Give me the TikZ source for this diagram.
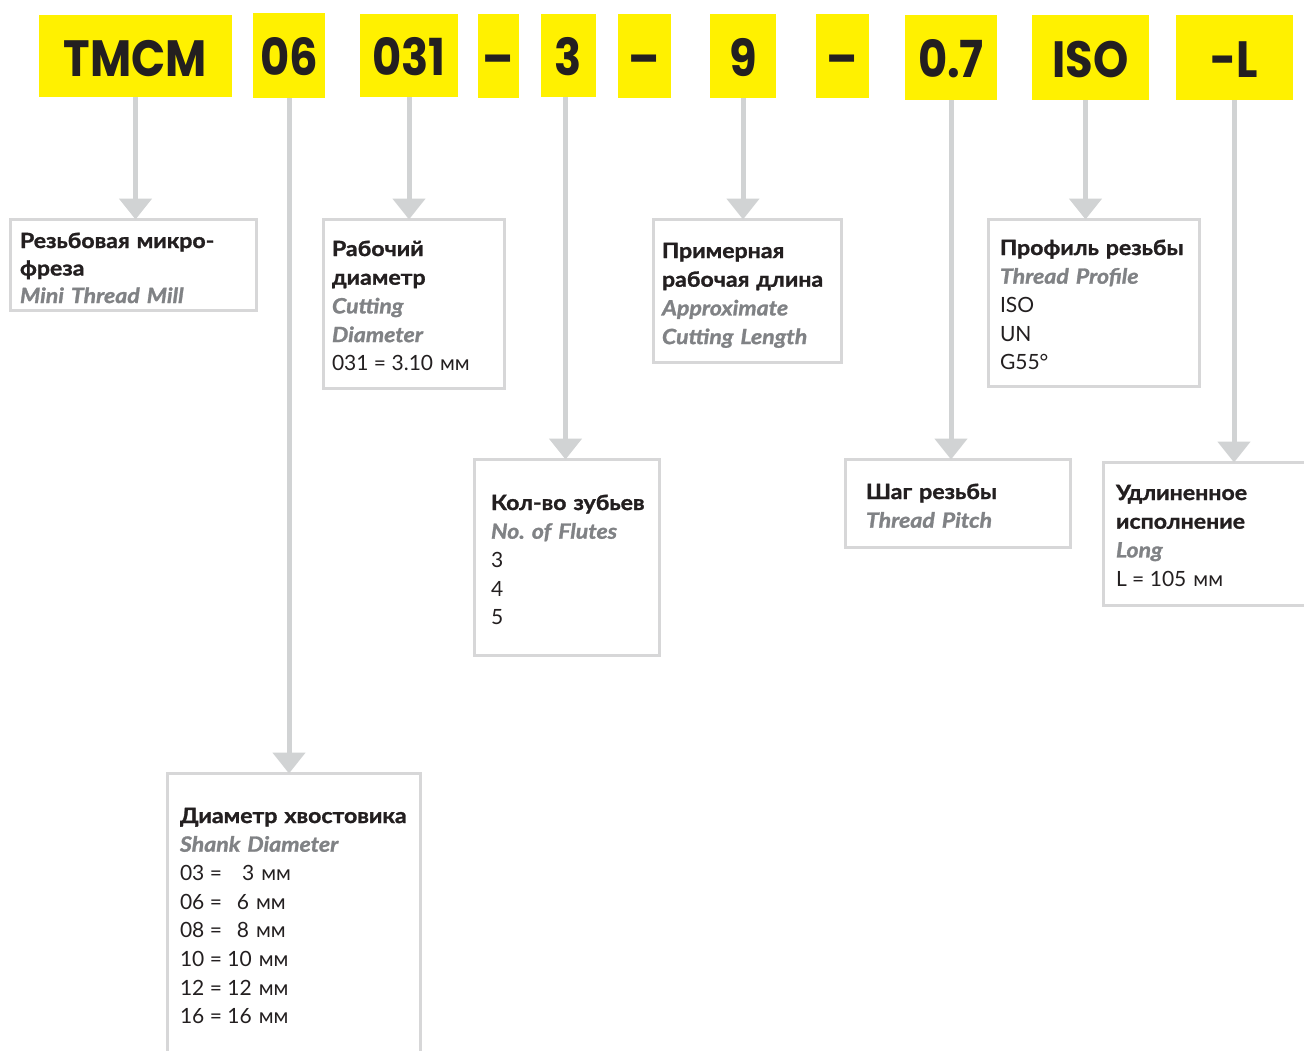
\documentclass[tikz,border=0pt]{standalone}
\usepackage{fontspec}
\setmainfont{Lato}[
  BoldFeatures={FakeBold=1.3, FakeStretch=1.1},
  BoldItalicFeatures={FakeBold=1.3, FakeStretch=1.1}]
\newfontfamily\codefont{Poppins}[FakeStretch=0.88]
\usetikzlibrary{arrows.meta}
\definecolor{ylw}{HTML}{FFF100}
\definecolor{ink}{HTML}{231F20}
\definecolor{grey}{HTML}{808285}
\definecolor{edge}{HTML}{D7D7D8}
\definecolor{wire}{HTML}{D1D3D4}
\newcommand{\en}[1]{{\color{grey}\bfseries\itshape #1}}
\newcommand{\ru}[1]{{\bfseries #1}}
\newcommand{\eqsign}{\kern0.26em=\kern0.26em}
\frenchspacing
\begin{document}
\begin{tikzpicture}[x=1pt,y=-1pt,
  code/.style={fill=ylw, inner sep=0pt, outer sep=0pt, text=ink,
    font=\codefont\bfseries\fontsize{51}{51}\selectfont,
    text height=40pt, text depth=0pt},
  descbox/.style={draw=edge, line width=3pt, inner sep=0pt, outer sep=0pt},
  desctext/.style={anchor=base west, inner sep=0pt, outer sep=0pt, align=left,
    text width=320pt, text=ink, font=\fontsize{21}{28.7}\selectfont},
  feed/.style={draw=wire, line width=5pt, -{Triangle[width=32pt,length=21pt]}}
]
\useasboundingbox[fill=white] (0,0) rectangle (1304,1050);

% code boxes
\node[code, minimum width=193pt, minimum height=82pt] (yTMCM) at (135.5,56) {TMCM};
\node[code, minimum width=72pt,  minimum height=85pt] (y06)   at (289,55.5) {06};
\node[code, minimum width=98pt,  minimum height=83pt] (y031)  at (409,55.5) {031};
\node[code, minimum width=41pt,  minimum height=84pt] (yd1)   at (498.5,56) {–};
\node[code, minimum width=55pt,  minimum height=83pt] (y3)    at (568.5,55.5) {3};
\node[code, minimum width=53pt,  minimum height=84pt] (yd2)   at (644.5,56) {–};
\node[code, minimum width=66pt,  minimum height=84pt] (y9)    at (743,56) {9};
\node[code, minimum width=53pt,  minimum height=84pt] (yd3)   at (842.5,56) {–};
\node[code, minimum width=92pt,  minimum height=85pt] (y07)   at (951,57.5) {0.7};
\node[code, minimum width=117pt, minimum height=85pt] (yISO)  at (1090.5,57.5) {ISO};
\node[code, minimum width=117pt, minimum height=85pt] (yL)    at (1234.5,57.5) {-L};

% description boxes
\node[descbox, minimum width=246pt, minimum height=91pt]  (b1) at (133.5,265) {};
\node[descbox, minimum width=181pt, minimum height=169pt] (b2) at (414,304) {};
\node[descbox, minimum width=185pt, minimum height=196pt] (b3) at (567,557.5) {};
\node[descbox, minimum width=188pt, minimum height=143pt] (b4) at (747.5,291) {};
\node[descbox, minimum width=225pt, minimum height=88pt]  (b5) at (958,503.5) {};
\node[descbox, minimum width=211pt, minimum height=167pt] (b6) at (1094,303) {};
\node[descbox, minimum width=207pt, minimum height=143pt] (b7) at (1207,534) {};
\node[descbox, minimum width=253pt, minimum height=283pt] (b8) at (294,915) {};

% texts
\node[desctext, font=\fontsize{21}{27.5}\selectfont] (t1) at (20,248)
  {\ru{Резьбовая микро-}\\\ru{фреза}\\\en{Mini Thread Mill}};
\node[desctext] (t2) at (332,256)
  {\ru{Рабочий}\\\ru{диаметр}\\\en{Cutting}\\\en{Diameter}\\031\eqsign3.10 мм};
\node[desctext] (t3) at (491,510)
  {\ru{Кол-во зубьев}\\\en{No. of Flutes}\\3\\4\\5};
\node[desctext] (t4) at (662,258)
  {\ru{Примерная}\\\ru{рабочая длина}\\\en{Approximate}\\\en{Cutting Length}};
\node[desctext] (t5) at (866,499)
  {\ru{Шаг резьбы}\\\en{Thread Pitch}};
\node[desctext] (t6) at (1000,255)
  {\ru{Профиль резьбы}\\\en{Thread Profile}\\ISO\\UN\\G55°};
\node[desctext] (t7) at (1116,500)
  {\ru{Удлиненное}\\\ru{исполнение}\\\en{Long}\\L\eqsign105 мм};
\node[desctext] (t8) at (180,823)
  {\ru{Диаметр хвостовика}\\\en{Shank Diameter}\\03\eqsign\hspace{0.7em}3 мм\\06\eqsign\hspace{0.45em}6 мм\\08\eqsign\hspace{0.45em}8 мм\\10\eqsign10 мм\\12\eqsign12 мм\\16\eqsign16 мм};

% connectors
\draw[feed] (yTMCM.south) -- (yTMCM.south |- b1.north);
\draw[feed] (y06.south) -- (y06.south |- b8.north);
\draw[feed] (y031.south) -- (y031.south |- b2.north);
\draw[feed] ([xshift=-3pt]y3.south) -- ([xshift=-3pt]y3.south |- b3.north);
\draw[feed] (y9.south) -- (y9.south |- b4.north);
\draw[feed] (y07.south) -- (y07.south |- b5.north);
\draw[feed] ([xshift=-5pt]yISO.south) -- ([xshift=-5pt]yISO.south |- b6.north);
\draw[feed] ([xshift=-0.5pt]yL.south) -- ([xshift=-0.5pt]yL.south |- b7.north);
\end{tikzpicture}
\end{document}
